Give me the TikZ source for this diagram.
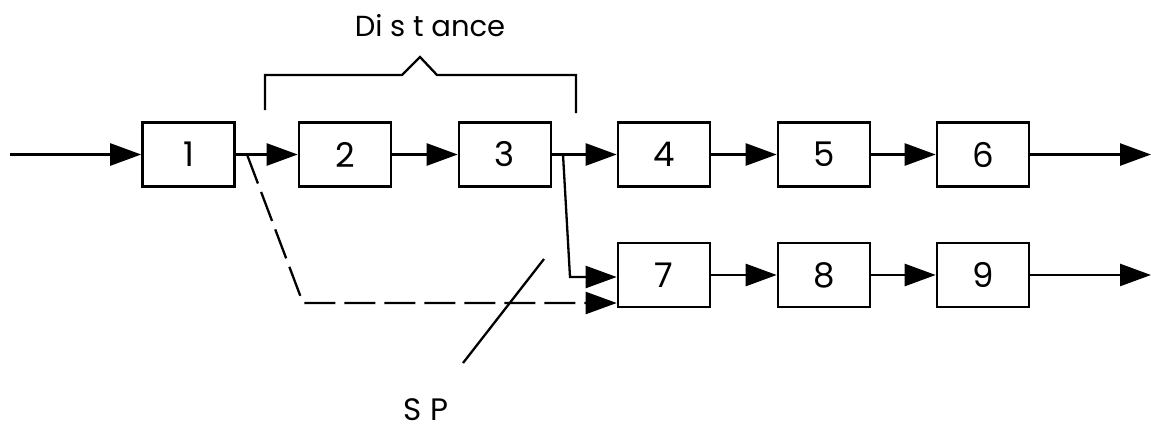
\documentclass[tikz,border=0pt]{standalone}
\usepackage{fontspec}
\setmainfont{Poppins}
\usetikzlibrary{arrows.meta}
\begin{document}
\begin{tikzpicture}[x=1pt,y=-1pt,
  line width=2.6pt,
  blockbox/.style={draw, minimum width=92pt, minimum height=64pt, inner sep=0pt,
    font=\fontsize{34}{34}\selectfont},
  flow/.style={-{Triangle[length=31pt,width=22pt]}},
  thinline/.style={line width=2.3pt},
  skip/.style={thinline, dash pattern=on 31pt off 9pt},
  caption/.style={inner sep=0pt}]
\useasboundingbox (0,0) rectangle (1151,429);

% upper chain
\node[blockbox] (b1) at (188.5,154.5) {1};
\node[blockbox] (b2) at (345,154.5) {2};
\node[blockbox] (b3) at (505,154.5) {3};
\node[blockbox] (b4) at (664,154.5) {4};
\node[blockbox] (b5) at (824,154.5) {5};
\node[blockbox] (b6) at (983,154.5) {6};
% lower chain
\node[blockbox] (b7) at (664,275) {7};
\node[blockbox] (b8) at (824,275) {8};
\node[blockbox] (b9) at (983,275) {9};

% free ends and bends
\coordinate (in) at (10,154.5);
\coordinate (out6) at (1151,154.5);
\coordinate (out9) at (1151,275);
\coordinate (tap1) at (247,154.5);
\coordinate (bend1) at (303,303);
\coordinate (tap3) at (563,154.5);
\coordinate (bend3) at (570,277);

\draw[flow] (in) -- (b1.west);
\draw[flow] (b1.east) -- (b2.west);
\draw[flow] (b2.east) -- (b3.west);
\draw[flow] (b3.east) -- (b4.west);
\draw[flow] (b4.east) -- (b5.west);
\draw[flow] (b5.east) -- (b6.west);
\draw[flow] (b6.east) -- (out6);
\draw[flow] (b7.east) -- (b8.west);
\draw[flow] (b8.east) -- (b9.west);
\draw[flow] (b9.east) -- (out9);

% branch from 3 into 7
\draw[flow, thinline] (tap3) -- (bend3) -- (bend3 -| b7.west);
% skipped path from 1 into 7
\draw[flow, skip] (tap1) -- (bend1) -- (bend1 -| b7.west);

% split marker
\coordinate (sp1) at (463,363);
\coordinate (sp2) at (544,259);
\draw[thinline] (sp1) -- (sp2);
\node[caption, font=\fontsize{31}{31}\selectfont, anchor=base] (splabel) at (426,420) {S P};

% distance bracket
\coordinate (brL) at (265,110);
\coordinate (brR) at (576,113);
\draw[thinline] (brL) -- (265,75) -- (402,75) -- (420,57) -- (437,75) -- (576,75) -- (brR);
\node[caption, font=\fontsize{29}{29}\selectfont, anchor=base] (dist) at (430,36) {Di s t ance};
\end{tikzpicture}
\end{document}
